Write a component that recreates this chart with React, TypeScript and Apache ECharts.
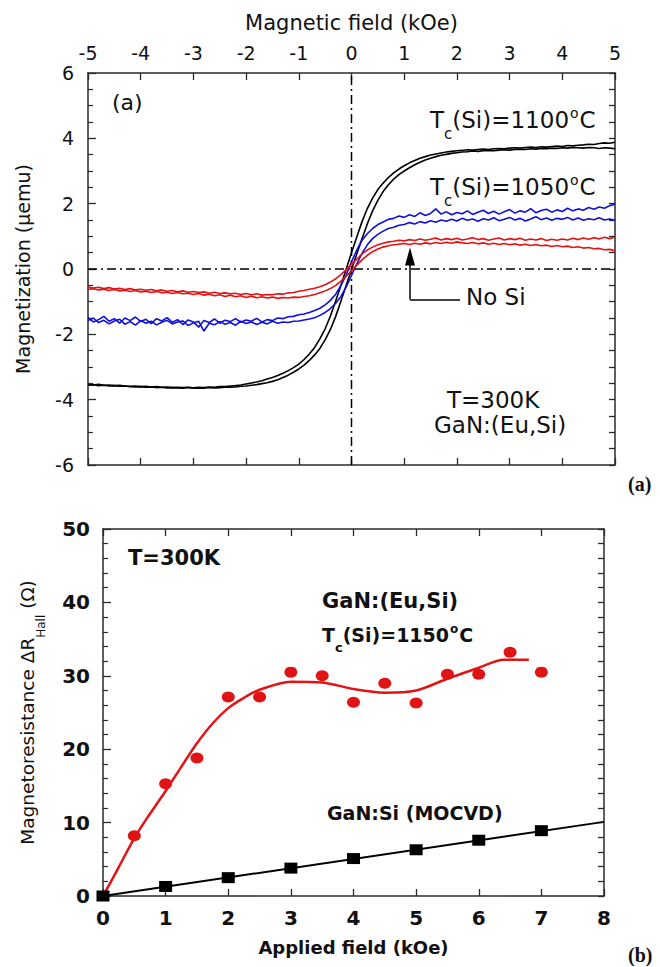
import React, { useEffect, useRef } from "react";
import * as echarts from "echarts";

// ---------- Panel (a): hysteresis loops ----------
const fieldGrid = [
  -5.0, -4.9, -4.8, -4.7, -4.6, -4.5, -4.4, -4.3, -4.2, -4.1,
  -4.0, -3.9, -3.8, -3.7, -3.6, -3.5, -3.4, -3.3, -3.2, -3.1,
  -3.0, -2.9, -2.8, -2.7, -2.6, -2.5, -2.4, -2.3, -2.2, -2.1,
  -2.0, -1.9, -1.8, -1.7, -1.6, -1.5, -1.4, -1.3, -1.2, -1.1,
  -1.0, -0.9, -0.8, -0.7, -0.6, -0.5, -0.4, -0.3, -0.2, -0.1,
  0.0, 0.1, 0.2, 0.3, 0.4, 0.5, 0.6, 0.7, 0.8, 0.9,
  1.0, 1.1, 1.2, 1.3, 1.4, 1.5, 1.6, 1.7, 1.8, 1.9,
  2.0, 2.1, 2.2, 2.3, 2.4, 2.5, 2.6, 2.7, 2.8, 2.9,
  3.0, 3.1, 3.2, 3.3, 3.4, 3.5, 3.6, 3.7, 3.8, 3.9,
  4.0, 4.1, 4.2, 4.3, 4.4, 4.5, 4.6, 4.7, 4.8, 4.9,
  5.0,
];

const black1100Desc = [
  -3.54, -3.55, -3.53, -3.56, -3.55, -3.57, -3.56, -3.58, -3.59, -3.58,
  -3.6, -3.59, -3.61, -3.6, -3.62, -3.61, -3.63, -3.62, -3.63, -3.62,
  -3.64, -3.62, -3.63, -3.61, -3.62, -3.6, -3.6, -3.58, -3.57, -3.55,
  -3.52, -3.49, -3.46, -3.42, -3.37, -3.32, -3.26, -3.19, -3.11, -3.02,
  -2.91, -2.77, -2.6, -2.4, -2.14, -1.83, -1.44, -0.98, -0.5, 0.0,
  0.5, 0.98, 1.45, 1.85, 2.17, 2.43, 2.63, 2.8, 2.94, 3.06,
  3.16, 3.25, 3.32, 3.39, 3.44, 3.49, 3.52, 3.55, 3.58, 3.6,
  3.62, 3.63, 3.65, 3.64, 3.66, 3.67, 3.66, 3.68, 3.69, 3.68,
  3.7, 3.71, 3.7, 3.72, 3.73, 3.72, 3.74, 3.73, 3.75, 3.76,
  3.75, 3.78, 3.77, 3.79, 3.8, 3.82, 3.81, 3.84, 3.86, 3.85,
  3.88,
];

const black1100Asc = [
  -3.56, -3.54, -3.57, -3.56, -3.58, -3.57, -3.59, -3.58, -3.6, -3.61,
  -3.6, -3.62, -3.61, -3.63, -3.62, -3.64, -3.63, -3.64, -3.65, -3.63,
  -3.65, -3.64, -3.65, -3.63, -3.64, -3.63, -3.62, -3.62, -3.61, -3.59,
  -3.58, -3.56, -3.54, -3.51, -3.48, -3.44, -3.39, -3.32, -3.25, -3.16,
  -3.06, -2.94, -2.8, -2.63, -2.43, -2.17, -1.85, -1.45, -0.98, -0.5,
  -0.02, 0.46, 0.93, 1.38, 1.78, 2.1, 2.37, 2.58, 2.75, 2.89,
  3.0, 3.1, 3.19, 3.27, 3.34, 3.39, 3.44, 3.48, 3.51, 3.54,
  3.56, 3.58, 3.59, 3.61, 3.6, 3.62, 3.63, 3.62, 3.64, 3.65,
  3.64, 3.66, 3.67, 3.66, 3.68, 3.67, 3.69, 3.68, 3.7, 3.69,
  3.71, 3.7, 3.72, 3.71, 3.7, 3.72, 3.71, 3.69, 3.71, 3.7,
  3.68,
];

const blue1050Desc = [
  -1.48, -1.62, -1.55, -1.45, -1.6, -1.52, -1.66, -1.5, -1.58, -1.47,
  -1.61, -1.54, -1.67, -1.52, -1.59, -1.49, -1.63, -1.55, -1.7, -1.56,
  -1.62, -1.78, -1.58, -1.64, -1.53, -1.66, -1.57, -1.61, -1.52, -1.63,
  -1.56, -1.6, -1.51, -1.62, -1.55, -1.58, -1.5, -1.52, -1.46, -1.45,
  -1.4, -1.38, -1.33, -1.27, -1.2, -1.1, -0.96, -0.77, -0.5, -0.18,
  0.22, 0.58, 0.88, 1.08, 1.24, 1.36, 1.44, 1.52, 1.55, 1.62,
  1.58, 1.66, 1.61, 1.72, 1.64, 1.7, 1.84, 1.68, 1.75, 1.66,
  1.73, 1.69, 1.78, 1.67, 1.74, 1.8, 1.7, 1.77, 1.68, 1.75,
  1.82, 1.71, 1.78, 1.74, 1.85, 1.72, 1.79, 1.83, 1.74, 1.81,
  1.76, 1.86, 1.78, 1.84, 1.8, 1.88, 1.83, 1.9, 1.86, 1.94,
  1.98,
];

const blue1050Asc = [
  -1.58, -1.5, -1.64, -1.57, -1.68, -1.59, -1.54, -1.69, -1.61, -1.72,
  -1.58, -1.66, -1.6, -1.71, -1.63, -1.57, -1.68, -1.62, -1.59, -1.73,
  -1.65, -1.6, -1.9, -1.66, -1.71, -1.61, -1.69, -1.64, -1.72, -1.6,
  -1.67, -1.62, -1.7, -1.63, -1.68, -1.6, -1.66, -1.62, -1.64, -1.6,
  -1.59, -1.56, -1.53, -1.49, -1.42, -1.33, -1.21, -1.05, -0.84, -0.55,
  -0.2, 0.16, 0.48, 0.74, 0.93, 1.06, 1.16, 1.24, 1.28, 1.34,
  1.36, 1.42, 1.38, 1.45, 1.41, 1.48, 1.43, 1.5, 1.46, 1.52,
  1.47, 1.55, 1.49, 1.53, 1.46, 1.54, 1.5, 1.57, 1.48, 1.52,
  1.58, 1.5, 1.55, 1.47, 1.53, 1.6, 1.51, 1.56, 1.49, 1.55,
  1.52, 1.58, 1.5, 1.56, 1.49, 1.54, 1.51, 1.57, 1.5, 1.53,
  1.49,
];

const redNoSiDesc = [
  -0.55, -0.58, -0.56, -0.6, -0.57, -0.61, -0.59, -0.63, -0.6, -0.64,
  -0.62, -0.65, -0.63, -0.67, -0.64, -0.68, -0.66, -0.7, -0.67, -0.71,
  -0.69, -0.72, -0.7, -0.74, -0.71, -0.75, -0.73, -0.76, -0.74, -0.78,
  -0.75, -0.79, -0.76, -0.8, -0.78, -0.79, -0.76, -0.77, -0.73, -0.72,
  -0.68, -0.66, -0.62, -0.59, -0.54, -0.48, -0.4, -0.3, -0.17, -0.02,
  0.14, 0.3, 0.46, 0.58, 0.67, 0.74, 0.79, 0.83, 0.85, 0.88,
  0.86, 0.9, 0.87, 0.92, 0.88, 0.91, 0.95, 0.89, 0.93, 0.9,
  0.94, 0.89, 0.92, 0.96, 0.9, 0.93, 0.88, 0.92, 0.95, 0.89,
  0.93, 0.9, 0.94, 0.88, 0.92, 0.89, 0.93, 0.87, 0.91, 0.88,
  0.92, 0.89, 0.94, 0.9, 0.95, 0.91, 0.96, 0.92, 0.97, 0.93,
  0.98,
];

const redNoSiAsc = [
  -0.62, -0.6, -0.64, -0.62, -0.66, -0.63, -0.67, -0.65, -0.69, -0.66,
  -0.7, -0.68, -0.72, -0.69, -0.73, -0.71, -0.75, -0.72, -0.76, -0.74,
  -0.78, -0.75, -0.8, -0.77, -0.82, -0.79, -0.84, -0.8, -0.85, -0.82,
  -0.87, -0.83, -0.88, -0.85, -0.89, -0.86, -0.9, -0.87, -0.89, -0.86,
  -0.87, -0.84, -0.82, -0.78, -0.73, -0.67, -0.6, -0.5, -0.37, -0.22,
  -0.05, 0.12, 0.28, 0.42, 0.53, 0.61, 0.67, 0.71, 0.74, 0.76,
  0.78, 0.75, 0.79, 0.76, 0.8, 0.77, 0.81, 0.78, 0.82, 0.79,
  0.83, 0.8, 0.78, 0.81, 0.77, 0.8, 0.76, 0.79, 0.75, 0.78,
  0.74, 0.77, 0.73, 0.76, 0.72, 0.75, 0.71, 0.73, 0.69, 0.72,
  0.68, 0.7, 0.66, 0.68, 0.64, 0.66, 0.62, 0.63, 0.59, 0.6,
  0.56,
];

// ---------- Panel (b): magnetoresistance ----------
const euSiField = [0.5, 1, 1.5, 2, 2.5, 3, 3.5, 4, 4.5, 5, 5.5, 6, 6.5, 7];
const euSiResistance = [8.2, 15.3, 18.8, 27.1, 27.1, 30.5, 30.0, 26.4, 29.0, 26.3, 30.2, 30.2, 33.2, 30.5];
const euSiFitField = [0, 0.25, 0.5, 0.75, 1, 1.25, 1.5, 1.75, 2, 2.25, 2.5, 3, 3.5, 4, 4.5, 5, 5.5, 6, 6.4, 6.8];
const euSiFitResistance = [0, 3.9, 7.9, 11.2, 14.3, 17.6, 20.8, 23.5, 25.6, 27.0, 28.1, 29.2, 29.1, 28.2, 27.7, 28.0, 29.6, 31.1, 32.2, 32.2];
const mocvdField = [0, 1, 2, 3, 4, 5, 6, 7];
const mocvdResistance = [0, 1.3, 2.5, 3.8, 5.1, 6.3, 7.6, 8.9];
const mocvdFitField = [0, 8];
const mocvdFitResistance = [0, 10.1];

const pair = (xs: number[], ys: number[]) => xs.map((x, i) => [x, ys[i]]);

const FONT = "DejaVu Sans";
const TXT = "#111";
const AXIS = "#2a2a2a";
const RED = "#e01414";
const BLUE = "#1010dc";

export default function App() {
  const ref = useRef<HTMLDivElement>(null);

  useEffect(() => {
    if (!ref.current) return;
    const chart = echarts.init(ref.current, null, { renderer: "svg" });

    const axisLine = { show: true, onZero: false, lineStyle: { color: AXIS, width: 1.5 } };
    const tickIn = (len: number) => ({ show: true, inside: true, length: len, lineStyle: { color: AXIS, width: 1.3 } });

    const loopLine = (name: string, ys: number[], color: string) => ({
      name,
      type: "line",
      xAxisIndex: 0,
      yAxisIndex: 0,
      data: pair(fieldGrid, ys),
      symbol: "none",
      silent: true,
      lineStyle: { color, width: 1.6 },
      z: 3,
    });

    const richTop = {
      m: { fontFamily: FONT, fontSize: 23, lineHeight: 42, verticalAlign: "middle", color: TXT },
      s: { fontFamily: FONT, fontSize: 15, lineHeight: 16, verticalAlign: "bottom", color: TXT },
      p: { fontFamily: FONT, fontSize: 14, lineHeight: 16, verticalAlign: "top", padding: [7, 1, 0, 1], color: TXT },
    };
    const richBottom = {
      m: { fontFamily: FONT, fontWeight: "bold", fontSize: 19, lineHeight: 38, verticalAlign: "middle", color: TXT },
      s: { fontFamily: FONT, fontWeight: "bold", fontSize: 13, lineHeight: 14, verticalAlign: "bottom", color: TXT },
      p: { fontFamily: FONT, fontWeight: "bold", fontSize: 12, lineHeight: 14, verticalAlign: "top", padding: [7, 1, 0, 1], color: TXT },
    };

    const txt = (x: number, y: number, text: string, size: number, weight = "normal", family = FONT) => ({
      type: "text",
      x,
      y,
      silent: true,
      style: { text, fontFamily: family, fontSize: size, fontWeight: weight, fill: TXT, align: "left", verticalAlign: "middle" },
    });
    const richTxt = (x: number, y: number, text: string, rich: any) => ({
      type: "text",
      x,
      y,
      silent: true,
      style: { text, rich, fill: TXT, align: "left", verticalAlign: "middle" },
    });

    const option: any = {
      animation: false,
      backgroundColor: "#fff",
      grid: [
        { left: 88, top: 73, width: 527, height: 392 },
        { left: 103, top: 529, width: 501, height: 367 },
      ],
      xAxis: [
        {
          gridIndex: 0, type: "value", position: "top", min: -5, max: 5, interval: 1,
          name: "Magnetic field (kOe)", nameLocation: "middle", nameGap: 40,
          nameTextStyle: { fontFamily: FONT, fontSize: 21, color: TXT },
          axisLine, axisTick: tickIn(7),
          axisLabel: { fontFamily: FONT, fontSize: 19, color: TXT, margin: 11 },
          splitLine: { show: false },
        },
        {
          gridIndex: 0, type: "value", position: "bottom", min: -5, max: 5, interval: 1,
          axisLine, axisTick: tickIn(7), axisLabel: { show: false }, splitLine: { show: false },
        },
        {
          gridIndex: 1, type: "value", position: "bottom", min: 0, max: 8, interval: 1,
          name: "Applied field (kOe)", nameLocation: "middle", nameGap: 42,
          nameTextStyle: { fontFamily: FONT, fontWeight: "bold", fontSize: 18, color: TXT },
          axisLine, axisTick: tickIn(7),
          axisLabel: { fontFamily: FONT, fontWeight: "bold", fontSize: 20, color: TXT, margin: 12 },
          splitLine: { show: false },
        },
        {
          gridIndex: 1, type: "value", position: "top", min: 0, max: 8, interval: 1,
          axisLine, axisTick: tickIn(7), axisLabel: { show: false }, splitLine: { show: false },
        },
      ],
      yAxis: [
        {
          gridIndex: 0, type: "value", position: "left", min: -6, max: 6, interval: 2,
          name: "Magnetization (\u03bcemu)", nameLocation: "middle", nameRotate: 90, nameGap: 56,
          nameTextStyle: { fontFamily: FONT, fontSize: 19, color: TXT },
          axisLine, axisTick: tickIn(8),
          minorTick: { show: true, splitNumber: 4, length: 5, lineStyle: { color: AXIS, width: 1.2 } },
          axisLabel: { fontFamily: FONT, fontSize: 19, color: TXT, margin: 14 },
          splitLine: { show: false },
        },
        {
          gridIndex: 0, type: "value", position: "right", min: -6, max: 6, interval: 0.5,
          axisLine, axisTick: tickIn(6), axisLabel: { show: false }, splitLine: { show: false },
        },
        {
          gridIndex: 1, type: "value", position: "left", min: 0, max: 50, interval: 10,
          name: "{n|Magnetoresistance \u0394R}{s|Hall}{n| (\u03a9)}", nameLocation: "middle", nameRotate: 90, nameGap: 56,
          nameTextStyle: {
            fontFamily: FONT, fontSize: 18, color: TXT,
            rich: {
              n: { fontFamily: FONT, fontSize: 18.5, lineHeight: 40, verticalAlign: "middle", color: TXT },
              s: { fontFamily: FONT, fontSize: 12, lineHeight: 14, verticalAlign: "bottom", color: TXT },
            },
          },
          axisLine, axisTick: tickIn(8),
          minorTick: { show: true, splitNumber: 5, length: 5, lineStyle: { color: AXIS, width: 1.2 } },
          axisLabel: { fontFamily: FONT, fontWeight: "bold", fontSize: 20, color: TXT, margin: 13 },
          splitLine: { show: false },
        },
        {
          gridIndex: 1, type: "value", position: "right", min: 0, max: 50, interval: 2,
          axisLine, axisTick: tickIn(6), axisLabel: { show: false }, splitLine: { show: false },
        },
      ],
      series: [
        {
          name: "zero-field", type: "line", xAxisIndex: 0, yAxisIndex: 0, silent: true, symbol: "none", z: 2,
          data: [[-5, 0], [5, 0]],
          lineStyle: { color: "#000", width: 1.5, type: [9, 4, 2, 4] },
          markLine: {
            silent: true, animation: false, symbol: ["none", "none"], label: { show: false },
            lineStyle: { color: "#000", width: 1.5, type: "solid" },
            emphasis: { disabled: true },
            data: [
              [{ coord: [1.11, -0.93], symbol: "none" }, { coord: [1.11, 0.38], symbol: "triangle", symbolSize: [10, 18] }],
              [{ coord: [1.11, -0.93], symbol: "none" }, { coord: [2.06, -0.93], symbol: "none" }],
            ],
          },
        },
        {
          name: "zero-magnetization", type: "line", xAxisIndex: 0, yAxisIndex: 0, silent: true, symbol: "none", z: 2,
          data: [[0, -6], [0, 6]],
          lineStyle: { color: "#000", width: 1.5, type: [9, 4, 2, 4] },
        },
        loopLine("1100 desc", black1100Desc, "#000"),
        loopLine("1100 asc", black1100Asc, "#000"),
        loopLine("1050 desc", blue1050Desc, BLUE),
        loopLine("1050 asc", blue1050Asc, BLUE),
        loopLine("No Si desc", redNoSiDesc, RED),
        loopLine("No Si asc", redNoSiAsc, RED),
        {
          name: "MOCVD fit", type: "line", xAxisIndex: 2, yAxisIndex: 2, silent: true, symbol: "none",
          data: pair(mocvdFitField, mocvdFitResistance), lineStyle: { color: "#000", width: 2 }, z: 3,
        },
        {
          name: "MOCVD", type: "scatter", xAxisIndex: 2, yAxisIndex: 2, silent: true, symbol: "rect", symbolSize: [13, 11],
          data: pair(mocvdField, mocvdResistance), itemStyle: { color: "#000", opacity: 1 }, z: 4,
        },
        {
          name: "EuSi fit", type: "line", xAxisIndex: 2, yAxisIndex: 2, silent: true, symbol: "none", smooth: 0.3,
          data: pair(euSiFitField, euSiFitResistance), lineStyle: { color: RED, width: 2.5 }, z: 3,
        },
        {
          name: "EuSi", type: "scatter", xAxisIndex: 2, yAxisIndex: 2, silent: true, symbol: "circle", symbolSize: [13, 11],
          data: pair(euSiField, euSiResistance), itemStyle: { color: RED, opacity: 1 }, z: 4,
        },
      ],
      graphic: [
        txt(112, 102, "(a)", 22),
        richTxt(430, 120, "{m|T}{s|c}{m|(Si)=1100}{p|o}{m|C}", richTop),
        richTxt(430, 187, "{m|T}{s|c}{m|(Si)=1050}{p|o}{m|C}", richTop),
        txt(466, 297, "No Si", 23),
        txt(447, 400, "T=300K", 23),
        txt(434, 425, "GaN:(Eu,Si)", 23),
        txt(628, 484, "(a)", 20, "bold", "Liberation Serif"),
        txt(128, 558, "T=300K", 21, "bold"),
        txt(322, 601, "GaN:(Eu,Si)", 21, "bold"),
        richTxt(322, 635, "{m|T}{s|c}{m|(Si)=1150}{p|o}{m|C}", richBottom),
        txt(327, 813, "GaN:Si (MOCVD)", 19, "bold"),
        txt(628, 955, "(b)", 20, "bold", "Liberation Serif"),
      ],
    };

    chart.setOption(option);
    return () => chart.dispose();
  }, []);

  return (
    <div
      ref={ref}
      style={{ position: "absolute", left: 0, top: 0, width: 660, height: 967, background: "#fff" }}
    />
  );
}
